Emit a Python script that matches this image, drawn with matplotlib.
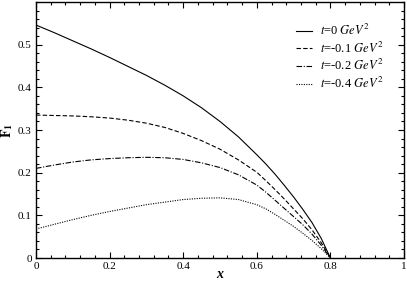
import numpy as np
import matplotlib
matplotlib.use('Agg')
import matplotlib.pyplot as plt
from matplotlib.ticker import MultipleLocator

plt.rcParams['font.family'] = ['Liberation Serif', 'DejaVu Serif']
plt.rcParams['mathtext.fontset'] = 'stix'

x = [0.0, 0.05, 0.1, 0.15, 0.2, 0.25, 0.3, 0.35, 0.4, 0.45, 0.5, 0.55, 0.6,
     0.625, 0.65, 0.675, 0.7, 0.725, 0.75, 0.775, 0.8]
f_t0 = [0.546, 0.528, 0.509, 0.490, 0.470, 0.449, 0.428, 0.405, 0.380, 0.352, 0.320, 0.284, 0.242,
        0.220, 0.196, 0.170, 0.143, 0.114, 0.083, 0.046, 0.0]
f_t01 = [0.335, 0.334, 0.333, 0.331, 0.328, 0.323, 0.316, 0.306, 0.292, 0.275, 0.255, 0.230, 0.201,
         0.181, 0.160, 0.138, 0.115, 0.092, 0.066, 0.036, 0.0]
f_t02 = [0.210, 0.218, 0.225, 0.230, 0.233, 0.235, 0.236, 0.235, 0.231, 0.223, 0.212, 0.195, 0.171,
         0.154, 0.135, 0.116, 0.097, 0.078, 0.056, 0.030, 0.0]
f_t04 = [0.068, 0.079, 0.090, 0.100, 0.109, 0.117, 0.125, 0.131, 0.137, 0.140, 0.141, 0.137, 0.125,
         0.115, 0.102, 0.088, 0.074, 0.058, 0.041, 0.022, 0.0]
labels = [r'$\mathit{t}$=0 $\mathit{GeV}^2$', r'$\mathit{t}$=-0.1 $\mathit{GeV}^2$',
          r'$\mathit{t}$=-0.2 $\mathit{GeV}^2$', r'$\mathit{t}$=-0.4 $\mathit{GeV}^2$']

fig = plt.figure(figsize=(4.07, 2.81), dpi=100)
ax = fig.add_axes([36/407, 23/281, 368/407, 256/281])

lw = 0.8
ax.plot(x, f_t0, color='black', lw=lw, ls='-', label=labels[0])
ax.plot(x, f_t01, color='black', lw=lw, ls=(0, (4, 2)), label=labels[1])
ax.plot(x, f_t02, color='black', lw=lw, ls=(0, (5, 1.5, 1, 1.5)), label=labels[2])
ax.plot(x, f_t04, color='black', lw=lw, ls=(0, (1, 1.2)), label=labels[3])

ax.set_xlim(0, 1)
ax.set_ylim(0, 0.6)
ax.xaxis.set_minor_locator(MultipleLocator(0.04))
ax.yaxis.set_minor_locator(MultipleLocator(0.02))
ax.set_xticks([0, 0.2, 0.4, 0.6, 0.8, 1.0])
ax.set_xticklabels(['0', '0.2', '0.4', '0.6', '0.8', '1'])
ax.set_yticks([0, 0.1, 0.2, 0.3, 0.4, 0.5])
ax.set_yticklabels(['0', '0.1', '0.2', '0.3', '0.4', '0.5'])
ax.tick_params(which='both', direction='in', top=True, right=True, labelsize=8, pad=3)
ax.tick_params(which='major', length=4.5, width=0.8)
ax.tick_params(which='minor', length=2.5, width=0.8)
for s in ax.spines.values():
    s.set_linewidth(1.0)

ax.set_xlabel('x', fontsize=10, fontstyle='italic', fontweight='bold', labelpad=-2)
ax.set_ylabel(r'$\mathbf{F}_\mathbf{1}$', fontsize=10, labelpad=2)

ax.legend(loc='upper right', frameon=False, fontsize=9, handlelength=1.3,
          handletextpad=0.6, labelspacing=0.2, bbox_to_anchor=(0.974, 0.962))

fig.savefig('out.png', dpi=100)
